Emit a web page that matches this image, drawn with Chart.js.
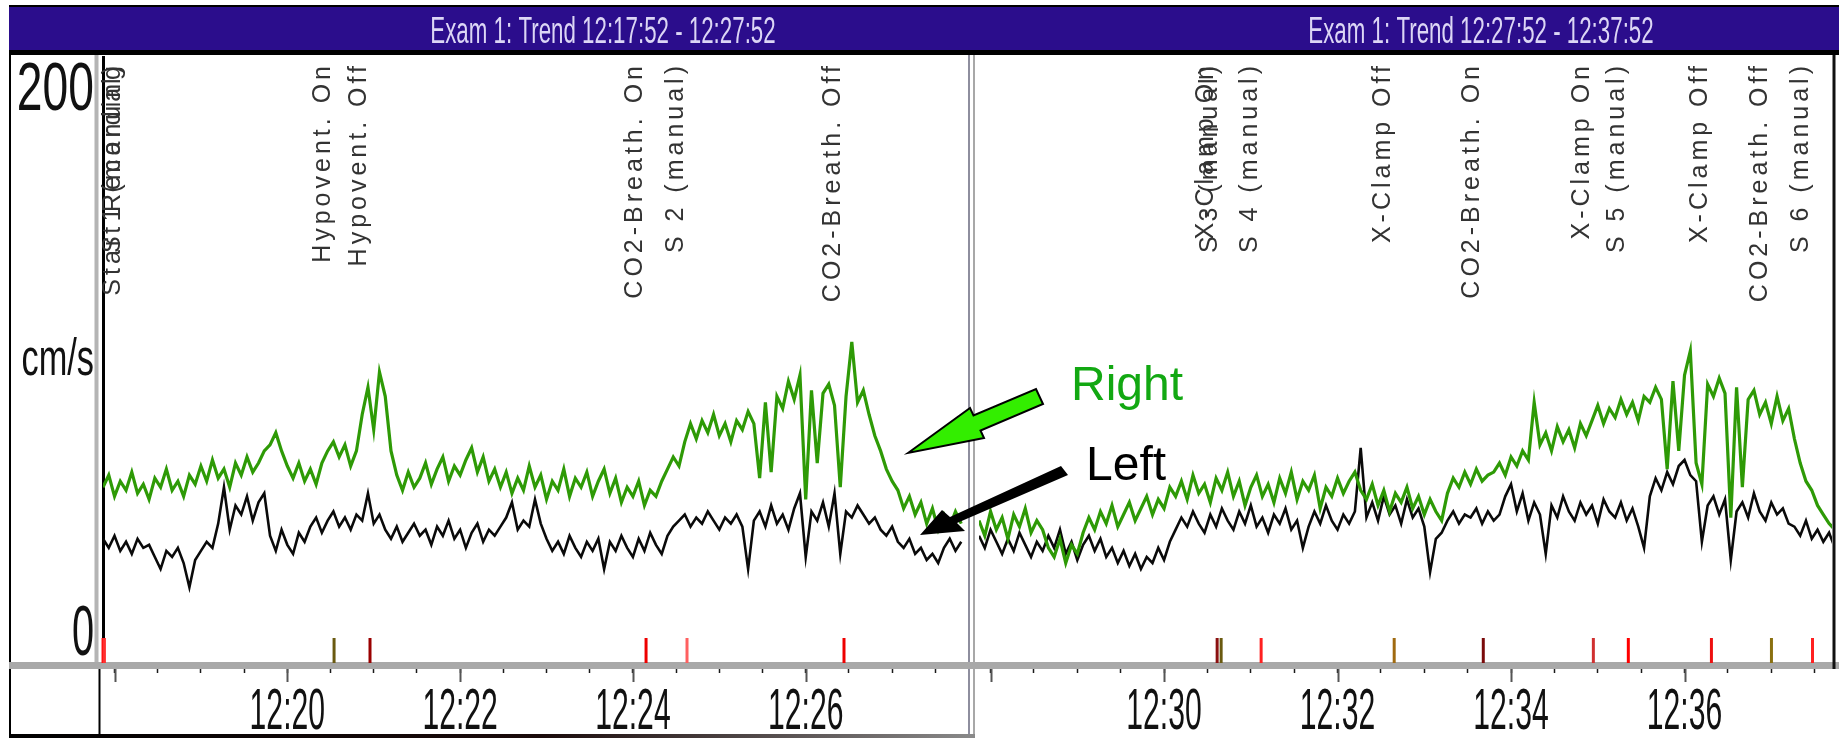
<!DOCTYPE html>
<html><head><meta charset="utf-8">
<script src="https://cdn.jsdelivr.net/npm/chart.js@4.4.0/dist/chart.umd.min.js"></script>
<style>html,body{margin:0;padding:0;background:#fff;overflow:hidden}canvas{display:block}</style>
</head><body>
<canvas id="c" width="1839" height="738" style="width:1839px;height:738px"></canvas>
<script>
// ---------- DATA ----------
const SAMPLE_SEC = 4;                 // one sample every 4 s
const LEFT_START = 17 + 52/60;        // 12:17:52 (minutes after 12:00)
const LEFT_END = 27 + 52/60;          // 12:27:52
const RIGHT_START = 27 + 52/60;       // 12:27:52
const RIGHT_END = 37 + 42/60;         // visible end of second panel

const panelTitles = ['Exam 1: Trend 12:17:52 - 12:27:52', 'Exam 1: Trend 12:27:52 - 12:37:52'];

// Right MCA (green), first panel
const rightMcaPanel1 = [58,62,55,60,57,63,56,59,54,61,58,64,57,60,55,62,
  59,65,60,67,61,64,58,66,62,68,63,66,70,72,76,70,65,61,66,
  60,64,59,66,70,73,68,72,65,70,
  82,91,77,96,88,70,
  62,57,63,58,61,
  66,59,64,68,60,65,62,67,71,63,68,60,64,58,
  63,56,61,57,65,58,62,54,60,57,64,55,61,58,63,55,60,
  64,56,61,53,58,55,60,52,57,55,
  60,64,68,65,
  73,79,74,80,76,82,75,79,73,80,77,
  83,79,61,86,63,88,84,93,87,95,54,90,66,89,92,85,58,88,106,86,90,
  82,75,70,64,60,
  57,51,55,49,53,46,51,44,49,45,50,46];
// Left MCA (black), first panel
const leftMcaPanel1 = [41,38,42,37,40,36,41,38,39,35,31,37,35,38,33,25,34,37,40,38,
  46,58,44,52,49,55,47,53,56,
  42,37,44,39,36,43,40,
  45,48,43,47,50,45,48,44,49,47,56,46,49,
  44,41,45,40,43,46,42,44,39,45,42,47,41,44,38,43,46,40,44,42,
  45,48,53,44,47,45,54,46,
  41,37,40,36,42,38,35,40,37,41,
  31,40,37,42,38,35,41,37,43,39,36,42,45,
  47,49,45,48,46,50,47,44,48,46,49,45,
  31,47,50,45,52,46,49,44,51,56,35,50,47,53,45,56,36,50,48,52,
  49,46,48,44,42,45,40,38,41,36,38,34,36,33,
  38,41,37,40];
// Right MCA (green), second panel
const rightMcaPanel2 = [47,42,50,44,48,41,49,45,51,43,47,44,
  38,35,41,33,39,36,
  43,48,44,50,46,52,45,49,53,47,51,55,49,54,51,58,55,
  60,54,62,56,59,53,61,57,63,55,60,52,58,62,55,59,53,61,56,63,54,60,57,62,51,58,55,61,56,
  60,63,57,54,59,52,57,50,56,53,58,51,55,49,54,50,47,
  56,61,58,63,59,64,60,62,63,
  66,62,68,65,70,67,
  86,72,76,70,78,73,77,71,79,75,
  80,85,79,84,81,87,82,86,80,88,
  86,91,87,64,93,70,95,103,66,59,92,88,94,89,48,91,58,87,
  90,82,86,79,88,80,84,
  74,66,60,57,52,49,46,44];
// Left MCA (black), second panel
const leftMcaPanel2 = [42,38,44,40,36,41,37,43,39,35,40,37,42,38,44,36,40,34,39,42,37,41,35,38,33,37,32,36,31,35,33,38,34,40,
  44,48,45,50,46,43,49,45,51,47,44,50,46,52,45,48,43,49,46,51,44,47,38,45,50,46,52,47,44,49,46,50,71,
  48,53,47,55,49,52,46,54,48,51,45,
  30,41,43,
  47,50,46,49,48,51,46,50,47,49,
  55,59,50,56,47,53,49,36,52,48,55,
  50,47,53,49,52,46,54,50,48,53,47,51,45,
  38,
  55,61,57,63,59,65,67,62,60,
  40,52,55,49,54,34,50,53,48,56,50,47,53,49,51,46,
  45,42,47,41,44,40,43,38];

// axis ticks (minutes after 12:00)
const xTicksPanel1 = [18,18.5,19,19.5,20,20.5,21,21.5,22,22.5,23,23.5,24,24.5,25,25.5,26,26.5,27,27.5];
const xTicksPanel2 = [28,28.5,29,29.5,30,30.5,31,31.5,32,32.5,33,33.5,34,34.5,35,35.5,36,36.5,37,37.5];
const xLabelValues1 = [20,22,24,26];
const xLabelTexts1 = ['12:20','12:22','12:24','12:26'];
const xLabelValues2 = [30,32,34,36];
const xLabelTexts2 = ['12:30','12:32','12:34','12:36'];
const yLabelValues = [200,100,0];
const yLabelTexts = ['200','cm/s','0'];

// event marks
const eventTimes = [17.867,17.883,20.541,20.957,24.152,24.626,26.443,30.612,30.658,31.119,32.653,33.680,34.949,35.352,36.310,37.002,37.475];
const eventTexts = ['Start Recording','S 1 (manual)','Hypovent. On','Hypovent. Off','CO2-Breath. On','S 2 (manual)','CO2-Breath. Off',
  'X-Clamp On','S 3 (manual)','S 4 (manual)','X-Clamp Off','CO2-Breath. On','X-Clamp On','S 5 (manual)','X-Clamp Off','CO2-Breath. Off','S 6 (manual)'];
const eventColors = ['#ff1010','#ff3030','#6a5a10','#9a0000','#ee0000','#ff6060','#ee0000',
  '#8a1010','#6a5a10','#ff2020','#a06a10','#7a0a0a','#d03030','#ff0000','#ee1010','#8a7010','#ff2020'];

// ---------- STYLE ----------
const GREEN = '#2e9a06';
const BLACK = '#0a0a0a';
const PANEL1_RIGHT = 967, PANEL2_LEFT = 979;
const FONT = '"Liberation Sans", Arial, sans-serif';

const series = (start, vals) => vals.map((v, i) => ({x: start + i * SAMPLE_SEC / 60, y: v}));

function narrowText(ctx, text, x, y, size, sx, align, color) {
  ctx.save();
  ctx.translate(x, y);
  ctx.scale(sx, 1);
  ctx.font = size + 'px ' + FONT;
  ctx.textAlign = align;
  ctx.textBaseline = 'alphabetic';
  ctx.fillStyle = color;
  ctx.fillText(text, 0, 0);
  ctx.restore();
}
function poly(ctx, pts, fill, stroke, lw) {
  ctx.beginPath();
  pts.forEach((p, i) => i ? ctx.lineTo(p[0], p[1]) : ctx.moveTo(p[0], p[1]));
  ctx.closePath();
  ctx.fillStyle = fill; ctx.fill();
  if (stroke) { ctx.lineWidth = lw; ctx.strokeStyle = stroke; ctx.lineJoin = 'miter'; ctx.stroke(); }
}
function vline(ctx, x, y1, y2, color, w) {
  ctx.beginPath(); ctx.moveTo(x, y1); ctx.lineTo(x, y2);
  ctx.strokeStyle = color; ctx.lineWidth = w; ctx.stroke();
}

const tcdPlugin = {
  id: 'tcd',
  afterLayout(chart) {
    const set = (s, l, r) => { s.left = l; s.right = r; s.width = r - l; s._gridLineItems = null; s._labelItems = null; s.configure(); };
    set(chart.scales.xL, chart.chartArea.left, PANEL1_RIGHT);
    set(chart.scales.xR, PANEL2_LEFT, chart.chartArea.right);
  },
  beforeDraw(chart) {
    const ctx = chart.ctx;
    ctx.save(); ctx.fillStyle = '#fff'; ctx.fillRect(0, 0, chart.width, chart.height); ctx.restore();
  },
  beforeDatasetsDraw(chart) {
    const ctx = chart.ctx, ca = chart.chartArea;
    const xL = chart.scales.xL, xR = chart.scales.xR, y = chart.scales.y;
    const y0 = y.getPixelForValue(0);
    ctx.save();
    // title bar
    ctx.fillStyle = '#000'; ctx.fillRect(9, 5, chart.width - 9, 50);
    ctx.fillStyle = '#2b0d8c'; ctx.fillRect(9, 7, chart.width - 9, 43);
    narrowText(ctx, panelTitles[0], 603, 43, 36, 0.62, 'center', '#dcd6f5');
    narrowText(ctx, panelTitles[1], 1481, 43, 36, 0.62, 'center', '#dcd6f5');
    // frames
    vline(ctx, 10, 55, 738, '#000', 2);
    vline(ctx, 96.5, 55, y0, '#b4b4b4', 4);
    vline(ctx, 99.5, y0, 738, '#000', 2);
    vline(ctx, 969, 55, 736, '#8e8e9e', 2);
    vline(ctx, 974, 55, 736, '#a8a8a8', 2);
    const g = ctx.createLinearGradient(9, 0, 975, 0);
    g.addColorStop(0, '#000'); g.addColorStop(0.55, '#1a0a0a'); g.addColorStop(1, '#8a8a8a');
    ctx.fillStyle = g; ctx.fillRect(9, 734, 966, 4);
    // axis band
    ctx.fillStyle = '#a9a9a9'; ctx.fillRect(9, y0 - 1, chart.width - 9, 7);
    // long ticks at even minutes
    [[xL, xTicksPanel1], [xR, xTicksPanel2]].forEach(([s, tv]) => {
      tv.filter(v => Number.isInteger(v) && v % 2 === 0).forEach(v => {
        vline(ctx, Math.round(s.getPixelForValue(v)) + 0.5, y0 + 6, y0 + 19, '#555', 2);
      });
    });
    // y labels
    const ySpec = {200: [53, 68, 0.68], 100: [15, 52, 0.66], 0: [-8, 71, 0.56]};
    yLabelValues.forEach((v, i) => {
      const s = ySpec[v];
      narrowText(ctx, yLabelTexts[i], 94, y.getPixelForValue(v) + s[0], s[1], s[2], 'right', '#111');
    });
    // x labels
    xLabelValues1.forEach((v, i) => narrowText(ctx, xLabelTexts1[i], xL.getPixelForValue(v), 729, 58, 0.52, 'center', '#111'));
    xLabelValues2.forEach((v, i) => narrowText(ctx, xLabelTexts2[i], xR.getPixelForValue(v), 729, 58, 0.52, 'center', '#111'));
    // event labels and markers
    eventTimes.forEach((t, i) => {
      const s = t < LEFT_END ? xL : xR;
      const px = s.getPixelForValue(t);
      const ax = Math.max(px - 4, ca.left + 17);
      ctx.save();
      ctx.translate(ax, ca.top + 5);
      ctx.rotate(-Math.PI / 2);
      ctx.font = '25px ' + FONT;
      try { ctx.letterSpacing = '4px'; } catch (e) {}
      ctx.textAlign = 'right'; ctx.textBaseline = 'alphabetic';
      ctx.fillStyle = '#333';
      ctx.fillText(eventTexts[i], 0, 0);
      ctx.restore();
      vline(ctx, px, y0, y0 - 25, eventColors[i], 3);
    });
    ctx.restore();
  },
  afterDatasetsDraw(chart) {
    const ctx = chart.ctx, y = chart.scales.y;
    ctx.save();
    vline(ctx, 1834, 55, y.getPixelForValue(0) + 6, '#111', 3);
    poly(ctx, [[908,453],[970,408],[973.5,415.5],[1036,389],[1043,404],[980.5,430.5],[984,438]], '#33ee00', '#000', 2);
    poly(ctx, [[920,535],[942,510],[950,517],[1061,466],[1068,475],[957,523],[965,531]], '#000', null, 0);
    ctx.font = '48px ' + FONT; ctx.textAlign = 'left'; ctx.textBaseline = 'alphabetic';
    ctx.fillStyle = '#12a812'; ctx.fillText('Right', 1071, 400);
    ctx.fillStyle = '#000'; ctx.fillText('Left', 1086, 480);
    ctx.restore();
  }
};

const xScale = (min, max, ticks) => ({
  type: 'linear', position: 'bottom', min: min, max: max,
  afterBuildTicks: s => { s.ticks = ticks.map(v => ({value: v})); },
  afterFit: s => { s.height = 0; },
  grid: {drawOnChartArea: false, drawTicks: true, tickLength: 10, tickColor: '#1a1a1a', tickWidth: 1.5},
  border: {display: false},
  ticks: {display: false, autoSkip: false}
});

new Chart(document.getElementById('c'), {
  type: 'line',
  data: {datasets: [
    {label: 'Right', xAxisID: 'xL', yAxisID: 'y', data: series(LEFT_START, rightMcaPanel1), borderColor: GREEN, borderWidth: 3.2},
    {label: 'Right', xAxisID: 'xR', yAxisID: 'y', data: series(RIGHT_START, rightMcaPanel2), borderColor: GREEN, borderWidth: 3.2},
    {label: 'Left', xAxisID: 'xL', yAxisID: 'y', data: series(LEFT_START, leftMcaPanel1), borderColor: BLACK, borderWidth: 2.6},
    {label: 'Left', xAxisID: 'xR', yAxisID: 'y', data: series(RIGHT_START, leftMcaPanel2), borderColor: BLACK, borderWidth: 2.6}
  ]},
  options: {
    responsive: false, animation: false, devicePixelRatio: 1,
    layout: {padding: {left: 103, right: 7, top: 57, bottom: 75}},
    elements: {point: {radius: 0}, line: {tension: 0, borderJoinStyle: 'miter'}},
    plugins: {legend: {display: false}, tooltip: {enabled: false}},
    scales: {
      xL: xScale(LEFT_START, LEFT_END, xTicksPanel1),
      xR: xScale(RIGHT_START, RIGHT_END, xTicksPanel2),
      y: {min: 0, max: 200, position: 'left', afterFit: s => { s.width = 0; },
          grid: {display: false, drawTicks: false}, border: {display: true, color: '#000', width: 3},
          ticks: {display: false}}
    }
  },
  plugins: [tcdPlugin]
});
</script>
</body></html>
